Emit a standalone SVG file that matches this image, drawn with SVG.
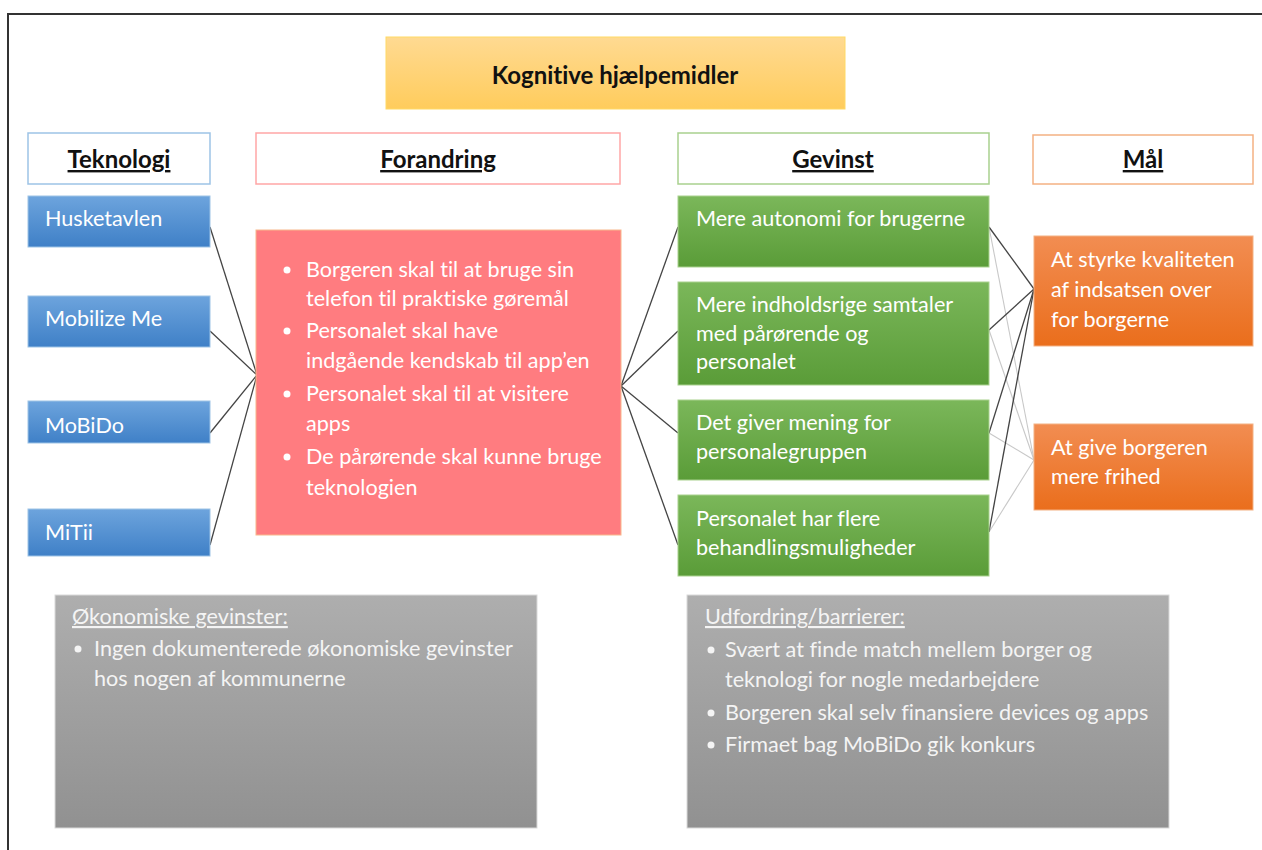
<svg xmlns="http://www.w3.org/2000/svg" width="1262" height="850" viewBox="0 0 1262 850">
<defs>
<linearGradient id="gTitle" x1="0" y1="0" x2="0" y2="1"><stop offset="0" stop-color="#FFDA92"/><stop offset="1" stop-color="#FFCC5C"/></linearGradient>
<linearGradient id="gBlue" x1="0" y1="0" x2="0" y2="1"><stop offset="0" stop-color="#6DA4DD"/><stop offset="1" stop-color="#3F80C7"/></linearGradient>
<linearGradient id="gGreen" x1="0" y1="0" x2="0" y2="1"><stop offset="0" stop-color="#7BB75A"/><stop offset="1" stop-color="#5A9C38"/></linearGradient>
<linearGradient id="gOrange" x1="0" y1="0" x2="0" y2="1"><stop offset="0" stop-color="#F28D52"/><stop offset="1" stop-color="#EA6E1C"/></linearGradient>
<linearGradient id="gGray" x1="0" y1="0" x2="0" y2="1"><stop offset="0" stop-color="#AEAEAE"/><stop offset="1" stop-color="#919191"/></linearGradient>
</defs>
<style>
text{font-family:Lato,"Liberation Sans",sans-serif;font-variant-ligatures:none;font-feature-settings:"liga" 0,"clig" 0;}
.t{fill:#FFFFFF;font-size:21.6px;}
.g{fill:#F4F4F4;font-size:21.6px;}
.h{fill:#111;font-size:24px;font-weight:bold;text-decoration:underline;}
.title{fill:#111;font-size:24px;font-weight:bold;}
.blue{fill:url(#gBlue);stroke:#9DC3E6;stroke-width:1;}
.green{fill:url(#gGreen);stroke:#A9D18E;stroke-width:1;}
.orange{fill:url(#gOrange);stroke:#F4B183;stroke-width:1;}
.gray{fill:url(#gGray);stroke:#D9D9D9;stroke-width:1;}
.c{stroke:#444;stroke-width:1.3;fill:none;}
.cl{stroke:#C8C8C8;stroke-width:1.1;fill:none;}
.b{fill:#FFFFFF;}
.bg{fill:#F4F4F4;}
</style>
<rect x="0" y="0" width="1262" height="850" fill="#FFFFFF"/>
<rect x="8" y="14" width="1300" height="900" fill="none" stroke="#333" stroke-width="2"/>

<g id="connectors">
<line class="c" x1="210" y1="227" x2="257" y2="375"/>
<line class="c" x1="210" y1="331" x2="257" y2="375"/>
<line class="c" x1="210" y1="433" x2="257" y2="375"/>
<line class="c" x1="210" y1="545" x2="257" y2="375"/>
<line class="c" x1="621" y1="386" x2="678" y2="227"/>
<line class="c" x1="621" y1="386" x2="678" y2="331"/>
<line class="c" x1="621" y1="386" x2="678" y2="433"/>
<line class="c" x1="621" y1="386" x2="678" y2="545"/>
<line class="cl" x1="989" y1="227" x2="1034" y2="460"/>
<line class="cl" x1="989" y1="330" x2="1034" y2="460"/>
<line class="cl" x1="989" y1="433" x2="1034" y2="460"/>
<line class="cl" x1="989" y1="532" x2="1034" y2="460"/>
<line class="c" x1="989" y1="227" x2="1034" y2="289"/>
<line class="c" x1="989" y1="330" x2="1034" y2="289"/>
<line class="c" x1="989" y1="433" x2="1034" y2="289"/>
<line class="c" x1="989" y1="532" x2="1034" y2="289"/>
</g>

<g id="title">
<rect x="386" y="37" width="459" height="72" fill="url(#gTitle)" stroke="#FFD966" stroke-width="1"/>
<text class="title" x="615" y="84" text-anchor="middle">Kognitive hjælpemidler</text>
</g>

<g id="h-teknologi">
<rect x="28" y="133" width="182" height="51" fill="#FFFFFF" stroke="#9DC3E6" stroke-width="1.5"/>
<text class="h" x="119" y="168" text-anchor="middle">Teknologi</text>
</g>
<g id="h-forandring">
<rect x="256" y="133" width="364" height="51" fill="#FFFFFF" stroke="#FFA6A6" stroke-width="1.5"/>
<text class="h" x="438" y="168" text-anchor="middle">Forandring</text>
</g>
<g id="h-gevinst">
<rect x="678" y="133" width="311" height="51" fill="#FFFFFF" stroke="#A9D18E" stroke-width="1.5"/>
<text class="h" x="833" y="168" text-anchor="middle">Gevinst</text>
</g>
<g id="h-maal">
<rect x="1033" y="135" width="220" height="49" fill="#FFFFFF" stroke="#F4B183" stroke-width="1.5"/>
<text class="h" x="1143" y="168" text-anchor="middle">Mål</text>
</g>

<g id="husketavlen">
<rect class="blue" x="28" y="196" width="182" height="51"/>
<text class="t" x="45" y="226">Husketavlen</text>
</g>
<g id="mobilizeme">
<rect class="blue" x="28" y="296" width="182" height="51"/>
<text class="t" x="45" y="326">Mobilize Me</text>
</g>
<g id="mobido">
<rect class="blue" x="28" y="401" width="182" height="42"/>
<text class="t" x="45" y="433">MoBiDo</text>
</g>
<g id="mitii">
<rect class="blue" x="28" y="509" width="182" height="47"/>
<text class="t" x="45" y="540">MiTii</text>
</g>

<g id="forandring">
<rect x="256" y="230" width="365" height="305" fill="#FF7C80" stroke="#F8B88C" stroke-width="1"/>
<circle class="b" cx="287" cy="270" r="3.5"/>
<circle class="b" cx="287" cy="331" r="3.5"/>
<circle class="b" cx="287" cy="394" r="3.5"/>
<circle class="b" cx="287" cy="457" r="3.5"/>
<text class="t" x="306" y="277">Borgeren skal til at bruge sin</text>
<text class="t" x="306" y="306">telefon til praktiske gøremål</text>
<text class="t" x="306" y="338">Personalet skal have</text>
<text class="t" x="306" y="368">indgående kendskab til app’en</text>
<text class="t" x="306" y="401">Personalet skal til at visitere</text>
<text class="t" x="306" y="431">apps</text>
<text class="t" x="306" y="464">De pårørende skal kunne bruge</text>
<text class="t" x="306" y="495">teknologien</text>
</g>

<g id="gevinst1">
<rect class="green" x="678" y="196" width="311" height="71"/>
<text class="t" x="696" y="226">Mere autonomi for brugerne</text>
</g>
<g id="gevinst2">
<rect class="green" x="678" y="282" width="311" height="103"/>
<text class="t" x="696" y="312">Mere indholdsrige samtaler</text>
<text class="t" x="696" y="341">med pårørende og</text>
<text class="t" x="696" y="369">personalet</text>
</g>
<g id="gevinst3">
<rect class="green" x="678" y="400" width="311" height="80"/>
<text class="t" x="696" y="430">Det giver mening for</text>
<text class="t" x="696" y="459">personalegruppen</text>
</g>
<g id="gevinst4">
<rect class="green" x="678" y="495" width="311" height="81"/>
<text class="t" x="696" y="526">Personalet har flere</text>
<text class="t" x="696" y="555">behandlingsmuligheder</text>
</g>

<g id="maal1">
<rect class="orange" x="1034" y="236" width="219" height="110"/>
<text class="t" x="1051" y="267">At styrke kvaliteten</text>
<text class="t" x="1051" y="297">af indsatsen over</text>
<text class="t" x="1051" y="327">for borgerne</text>
</g>
<g id="maal2">
<rect class="orange" x="1034" y="424" width="219" height="86"/>
<text class="t" x="1051" y="455">At give borgeren</text>
<text class="t" x="1051" y="484">mere frihed</text>
</g>

<g id="oekonomi">
<rect class="gray" x="55" y="595" width="482" height="233"/>
<text class="g" x="72" y="624" text-decoration="underline">Økonomiske gevinster:</text>
<circle class="bg" cx="78" cy="649" r="3.5"/>
<text class="g" x="94" y="656">Ingen dokumenterede økonomiske gevinster</text>
<text class="g" x="94" y="686">hos nogen af kommunerne</text>
</g>

<g id="udfordring">
<rect class="gray" x="687" y="595" width="482" height="233"/>
<text class="g" x="705" y="624" text-decoration="underline">Udfordring/barrierer:</text>
<circle class="bg" cx="711" cy="650" r="3.5"/>
<circle class="bg" cx="711" cy="713" r="3.5"/>
<circle class="bg" cx="711" cy="745" r="3.5"/>
<text class="g" x="725" y="657">Svært at finde match mellem borger og</text>
<text class="g" x="725" y="687">teknologi for nogle medarbejdere</text>
<text class="g" x="725" y="720">Borgeren skal selv finansiere devices og apps</text>
<text class="g" x="725" y="752">Firmaet bag MoBiDo gik konkurs</text>
</g>
</svg>
